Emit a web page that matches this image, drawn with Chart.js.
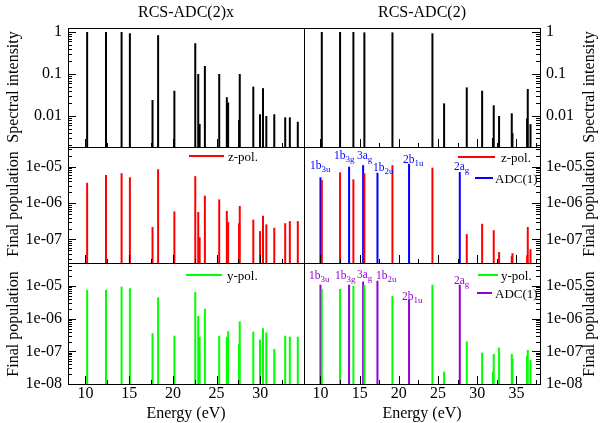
<!DOCTYPE html>
<html>
<head>
<meta charset="utf-8">
<script src="https://cdn.jsdelivr.net/npm/chart.js@4.4.1/dist/chart.umd.min.js"></script>
<style>
  body { margin: 0; background: #fff; }
  #page { position: relative; width: 601px; height: 423px; overflow: hidden; font-family: 'Liberation Serif', 'Times New Roman', serif; color: #000; }
  #page canvas { position: absolute; left: 0; top: 0; }
  .txt { position: absolute; white-space: nowrap; line-height: 1; }
  .title { font-size: 16px; transform: translate(-50%, -50%); }
  .ytitle { font-size: 16px; transform: translate(-50%, -50%) rotate(-90deg); }
  .leg { font-size: 13px; transform: translateY(-50%); }
  .line { position: absolute; height: 2px; }
  .lab { font-size: 11.5px; }
  .lab sub { font-size: 9px; vertical-align: -3px; line-height: 0; }
</style>
</head>
<body>
<div id="page">
  <canvas id="c00" width="601" height="423"></canvas>
  <canvas id="c01" width="601" height="423"></canvas>
  <canvas id="c02" width="601" height="423"></canvas>
  <canvas id="c10" width="601" height="423"></canvas>
  <canvas id="c11" width="601" height="423"></canvas>
  <canvas id="c12" width="601" height="423"></canvas>

  <div class="txt title" style="left:186px;top:12px">RCS-ADC(2)x</div>
  <div class="txt title" style="left:422px;top:12px">RCS-ADC(2)</div>
  <div class="txt title" style="left:186px;top:413px">Energy (eV)</div>
  <div class="txt title" style="left:422px;top:413px">Energy (eV)</div>

  <div class="txt ytitle" style="left:13px;top:87px">Spectral intensity</div>
  <div class="txt ytitle" style="left:13px;top:204px">Final population</div>
  <div class="txt ytitle" style="left:13px;top:324px">Final population</div>
  <div class="txt ytitle" style="left:589px;top:87px">Spectral intensity</div>
  <div class="txt ytitle" style="left:589px;top:204px">Final population</div>
  <div class="txt ytitle" style="left:589px;top:324px">Final population</div>

  <!-- legends -->
  <div class="line" style="left:189px;top:155px;width:35px;background:#f00"></div>
  <div class="txt leg" style="left:228px;top:156px">z-pol.</div>
  <div class="line" style="left:458px;top:156px;width:37px;background:#f00"></div>
  <div class="txt leg" style="left:501px;top:157px">z-pol.</div>
  <div class="line" style="left:475px;top:177px;width:18px;background:#00f"></div>
  <div class="txt leg" style="left:495px;top:178px">ADC(1)</div>
  <div class="line" style="left:186px;top:274px;width:36px;background:#0f0"></div>
  <div class="txt leg" style="left:227px;top:275px">y-pol.</div>
  <div class="line" style="left:478px;top:274px;width:20px;background:#0f0"></div>
  <div class="txt leg" style="left:501px;top:275px">y-pol.</div>
  <div class="line" style="left:477px;top:292px;width:15px;background:#9400d3"></div>
  <div class="txt leg" style="left:495px;top:293px">ADC(1)</div>

  <!-- ADC(1) state labels -->
  <div class="txt lab" style="left:310px;top:160px;color:#00f">1b<sub>3u</sub></div>
  <div class="txt lab" style="left:334px;top:150px;color:#00f">1b<sub>3g</sub></div>
  <div class="txt lab" style="left:357px;top:150px;color:#00f">3a<sub>g</sub></div>
  <div class="txt lab" style="left:373px;top:162px;color:#00f">1b<sub>2u</sub></div>
  <div class="txt lab" style="left:403px;top:154px;color:#00f">2b<sub>1u</sub></div>
  <div class="txt lab" style="left:454px;top:161px;color:#00f">2a<sub>g</sub></div>

  <div class="txt lab" style="left:309px;top:270px;color:#9400d3">1b<sub>3u</sub></div>
  <div class="txt lab" style="left:335px;top:270px;color:#9400d3">1b<sub>3g</sub></div>
  <div class="txt lab" style="left:357px;top:269px;color:#9400d3">3a<sub>g</sub></div>
  <div class="txt lab" style="left:376px;top:270px;color:#9400d3">1b<sub>2u</sub></div>
  <div class="txt lab" style="left:402px;top:291px;color:#9400d3">2b<sub>1u</sub></div>
  <div class="txt lab" style="left:454px;top:275px;color:#9400d3">2a<sub>g</sub></div>
</div>

<script>
// RCS-ADC(2)x states (left column)
const energyX = [10.19, 12.35, 14.13, 15.08, 17.67, 18.31, 20.17, 22.56, 22.90, 23.06, 23.66, 25.30,
                 26.17, 26.32, 27.57, 27.65, 29.20, 29.97, 30.31, 30.69, 31.60, 32.85, 33.38, 34.29];
const specX = [1.0, 1.0, 1.0, 0.93, 0.024, 0.84, 0.04, 0.54, 0.10, 0.0065, 0.155, 0.10,
               0.028, 0.021, 0.008, 0.10, 0.05, 0.011, 0.046, 0.010, 0.011, 0.0093, 0.0093, 0.0073];
const zPopX = [3.6e-6, 5.9e-6, 6.6e-6, 5.1e-6, 2.2e-7, 8.5e-6, 5.9e-7, 5.5e-6, 5.7e-7, 1.15e-7, 1.6e-6, 1.26e-6,
               6.1e-7, 3.0e-7, 2.8e-7, 8.3e-7, 3.5e-7, 1.7e-7, 4.5e-7, 2.6e-7, 2.1e-7, 2.8e-7, 3.2e-7, 3.2e-7];
const yPopX = [7.6e-6, 7.6e-6, 9.6e-6, 8.5e-6, 3.6e-7, 4.5e-6, 3.0e-7, 6.6e-6, 1.2e-6, 2.8e-7, 2.0e-6, 3.0e-7,
               2.8e-7, 4.1e-7, 1.7e-7, 8.3e-7, 4.0e-7, 2.3e-7, 5.1e-7, 3.8e-7, 1.18e-7, 3.0e-7, 2.8e-7, 2.8e-7];

// RCS-ADC(2) states (right column)
const energy2 = [10.17, 12.50, 14.20, 15.60, 19.18, 24.28, 25.77, 28.66, 30.62, 32.00, 32.10, 32.78,
                 34.40, 34.49, 36.35, 36.44, 36.79];
const spec2 = [1.0, 1.0, 1.0, 0.98, 0.98, 0.93, 0.02, 0.048, 0.04, 0.003, 0.018, 0.010,
               0.0116, 0.0039, 0.0088, 0.044, 0.0064];
const zPop2 = [4.3e-6, 7.0e-6, 4.5e-6, 6.6e-6, 1.1e-5, 9.4e-6, null, 1.4e-7, 2.7e-7, null, 1.8e-7, 4.5e-8,
               3.5e-8, 4.2e-8, 3.7e-8, 2.2e-7, 5.4e-8];
const yPop2 = [8.1e-6, 8.1e-6, 1.0e-5, 1.07e-5, 4.9e-6, 1.1e-5, 2.4e-8, 2.0e-7, 9.1e-8, 2.4e-8, 8.3e-8, 1.3e-7,
               8.3e-8, 5.8e-8, 7.4e-8, 1.1e-7, 5.4e-8];

// ADC(1) states
const energyAdc1 = [10.0, 13.65, 15.44, 17.27, 21.3, 27.77];
const zPopAdc1 = [5.1e-6, 1.0e-5, 1.1e-5, 6.8e-6, 1.2e-5, 7.1e-6];
const yPopAdc1 = [1.1e-5, 1.1e-5, 1.36e-5, 1.45e-5, 3.9e-6, 1.1e-5];

// tick labels
const xTicksLeft = [10, 15, 20, 25, 30];
const xTicksRight = [10, 15, 20, 25, 30, 35];
const specTicks = [1, 0.1, 0.01];
const specTickText = ['1', '0.1', '0.01'];
const popTicksMid = [1e-5, 1e-6, 1e-7];
const popTickTextMid = ['1e-05', '1e-06', '1e-07'];
const popTicksBot = [1e-5, 1e-6, 1e-7, 1e-8];
const popTickTextBot = ['1e-05', '1e-06', '1e-07', '1e-08'];

Chart.defaults.font.family = "'Liberation Serif', 'Times New Roman', serif";
Chart.defaults.font.size = 16;
Chart.defaults.color = '#000';

const cols = [
  { left: 68, right: 304, xmin: 8, xmax: 35, xticks: xTicksLeft, side: 'left' },
  { left: 304, right: 540, xmin: 7.9, xmax: 38, xticks: xTicksRight, side: 'right' }
];
const rows = [
  { top: 28, bottom: 147, ymin: 0.00183, ymax: 1.245, ticks: specTicks, text: specTickText },
  { top: 147, bottom: 263, ymin: 2.26e-8, ymax: 3.47e-5, ticks: popTicksMid, text: popTickTextMid },
  { top: 263, bottom: 384, ymin: 1e-8, ymax: 5.06e-5, ticks: popTicksBot, text: popTickTextBot }
];

// box around each panel plus inward ticks
const frame = {
  id: 'frame',
  afterDatasetsDraw(chart, args, opts) {
    const { ctx, chartArea: a } = chart;
    const x = chart.scales.x, y = chart.scales.y;
    ctx.save();
    ctx.strokeStyle = '#000';
    ctx.lineWidth = 1;
    ctx.beginPath();
    const x0 = opts.side === 'left' ? a.left : a.right;
    const dir = opts.side === 'left' ? 1 : -1;
    for (let d = Math.floor(Math.log10(y.min)); d <= Math.ceil(Math.log10(y.max)); d++) {
      for (let k = 1; k < 10; k++) {
        const v = k * Math.pow(10, d);
        if (v < y.min || v > y.max) continue;
        const py = Math.round(y.getPixelForValue(v)) + 0.5;
        ctx.moveTo(x0, py);
        ctx.lineTo(x0 + dir * (k === 1 ? 8 : 4), py);
      }
    }
    for (let v = Math.ceil(x.min / 2.5) * 2.5; v <= x.max; v += 2.5) {
      const px = Math.round(x.getPixelForValue(v)) + 0.5;
      const major = Math.abs(v / 5 - Math.round(v / 5)) < 1e-6;
      ctx.moveTo(px, a.bottom);
      ctx.lineTo(px, a.bottom - (major ? 8 : 4));
    }
    ctx.stroke();
    ctx.strokeRect(Math.round(a.left) + 0.5, Math.round(a.top) + 0.5, Math.round(a.width), Math.round(a.height));
    ctx.restore();
  }
};

function sticks(xs, ys, color) {
  return {
    data: xs.map((x, i) => ({ x: x, y: ys[i] })).filter(p => p.y != null),
    backgroundColor: color,
    borderWidth: 0,
    barThickness: 2,
    inflateAmount: 0,
    stack: 's'
  };
}

function panel(id, col, row, datasets) {
  const showX = row === rows[2];
  const yw = 60, xh = showX ? 22 : 0;
  new Chart(document.getElementById(id), {
    type: 'bar',
    data: { datasets: datasets },
    options: {
      responsive: false,
      animation: false,
      devicePixelRatio: 1,
      layout: {
        padding: {
          left: col.side === 'left' ? col.left - yw : col.left,
          right: col.side === 'left' ? 601 - col.right : 601 - col.right - yw,
          top: row.top,
          bottom: 423 - row.bottom - xh
        }
      },
      scales: {
        x: {
          type: 'linear',
          min: col.xmin,
          max: col.xmax,
          offset: false,
          display: showX,
          grid: { display: false, drawTicks: false },
          border: { display: false },
          ticks: { padding: 0, autoSkip: false, maxRotation: 0, callback: v => String(v) },
          afterBuildTicks: s => { s.ticks = col.xticks.map(v => ({ value: v })); },
          afterFit: s => { s.height = xh; }
        },
        y: {
          type: 'logarithmic',
          position: col.side,
          min: row.ymin,
          max: row.ymax,
          bounds: 'data',
          stacked: false,
          grid: { display: false, drawTicks: false },
          border: { display: false },
          ticks: { padding: 6, autoSkip: false, callback: (v, i) => row.text[i] },
          afterBuildTicks: s => { s.ticks = row.ticks.map(v => ({ value: v })); },
          afterFit: s => { s.width = yw; }
        }
      },
      plugins: {
        legend: { display: false },
        tooltip: { enabled: false },
        frame: { side: col.side }
      }
    },
    plugins: [frame]
  });
}

panel('c00', cols[0], rows[0], [sticks(energyX, specX, '#000')]);
panel('c01', cols[0], rows[1], [sticks(energyX, zPopX, '#f00')]);
panel('c02', cols[0], rows[2], [sticks(energyX, yPopX, '#0f0')]);
panel('c10', cols[1], rows[0], [sticks(energy2, spec2, '#000')]);
panel('c11', cols[1], rows[1], [sticks(energy2, zPop2, '#f00'), sticks(energyAdc1, zPopAdc1, '#00f')]);
panel('c12', cols[1], rows[2], [sticks(energy2, yPop2, '#0f0'), sticks(energyAdc1, yPopAdc1, '#9400d3')]);
</script>
</body>
</html>
